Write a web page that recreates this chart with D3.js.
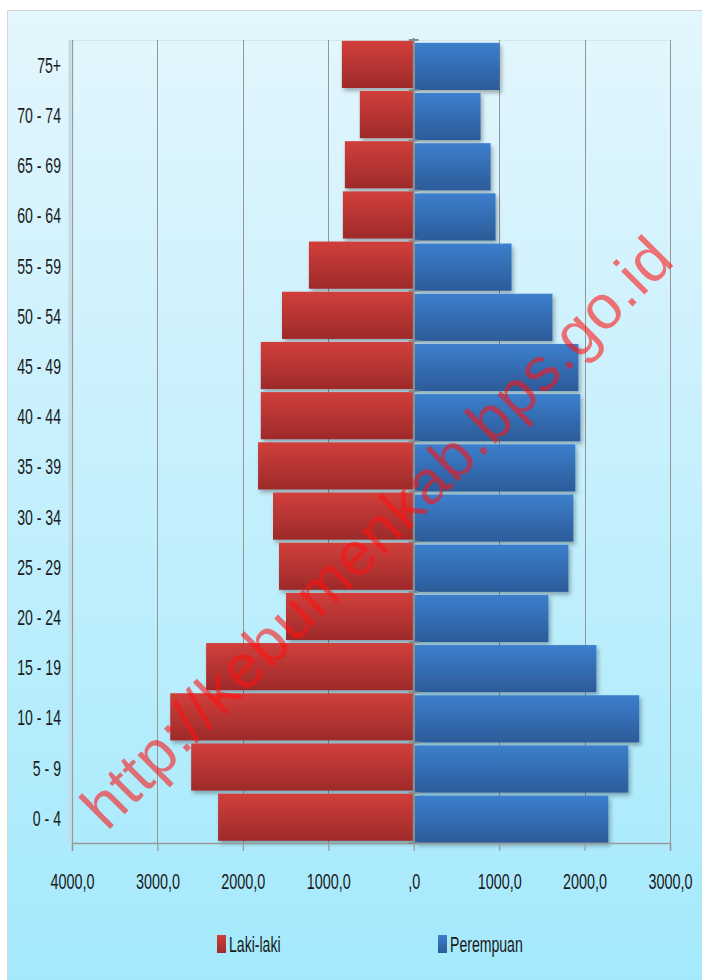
<!DOCTYPE html>
<html>
<head>
<meta charset="utf-8">
<script src="https://cdn.jsdelivr.net/npm/d3@7"></script>
<style>
  html, body { margin: 0; padding: 0; background: #ffffff; }
  svg { display: block; }
  text { font-family: "Liberation Sans", Arial, sans-serif; }
</style>
</head>
<body>
<svg id="chart" width="702" height="980"></svg>
<script>
// ---- data ----
const ageGroups = ["0 - 4","5 - 9","10 - 14","15 - 19","20 - 24","25 - 29","30 - 34","35 - 39",
                   "40 - 44","45 - 49","50 - 54","55 - 59","60 - 64","65 - 69","70 - 74","75+"];
const lakiLaki  = [2290, 2605, 2850, 2430, 1495, 1577, 1647, 1822, 1790, 1790, 1542, 1227, 829, 806, 631, 841];
const perempuan = [2278, 2512, 2640, 2138, 1577, 1811, 1869, 1892, 1950, 1928, 1624, 1145, 958, 900, 783, 1005];
const tickValues = [-4000, -3000, -2000, -1000, 0, 1000, 2000, 3000];
const tickLabels = ["4000,0", "3000,0", "2000,0", "1000,0", ",0", "1000,0", "2000,0", "3000,0"];
const seriesNames = ["Laki-laki", "Perempuan"];
const watermark = "http://kebumenkab.bps.go.id";

const svg = d3.select("#chart");
const defs = svg.append("defs");

// background gradient
const bg = defs.append("linearGradient").attr("id", "bg").attr("x1", 0).attr("y1", 0).attr("x2", 0).attr("y2", 1);
bg.append("stop").attr("offset", "0%").attr("stop-color", "#e4f6fd");
bg.append("stop").attr("offset", "100%").attr("stop-color", "#a3e9fc");

const gRed = defs.append("linearGradient").attr("id", "gRed").attr("x1", 0).attr("y1", 0).attr("x2", 0).attr("y2", 1);
gRed.append("stop").attr("offset", "0%").attr("stop-color", "#d13f3b");
gRed.append("stop").attr("offset", "100%").attr("stop-color", "#9d2a2a");
const gBlue = defs.append("linearGradient").attr("id", "gBlue").attr("x1", 0).attr("y1", 0).attr("x2", 0).attr("y2", 1);
gBlue.append("stop").attr("offset", "0%").attr("stop-color", "#3c7fcd");
gBlue.append("stop").attr("offset", "100%").attr("stop-color", "#2c5b99");

const shadow = defs.append("filter").attr("id", "shadow").attr("x", "-10%").attr("y", "-10%").attr("width", "130%").attr("height", "140%");
shadow.append("feDropShadow").attr("dx", 2).attr("dy", 3).attr("stdDeviation", 2)
  .attr("flood-color", "#000").attr("flood-opacity", 0.3);

// outer frame
svg.append("rect").attr("x", 7.5).attr("y", 10.5).attr("width", 700).attr("height", 980)
  .attr("fill", "url(#bg)").attr("stroke", "#d6d6d6").attr("stroke-width", 1);

// scales
const x = d3.scaleLinear().domain([-4000, 3000]).range([72, 670]);
const y = d3.scaleBand().domain(ageGroups.slice().reverse()).range([40, 843]).padding(0);
const bw = y.bandwidth();
const x0 = x(0);

// plot top faint border
svg.append("line").attr("x1", 72).attr("x2", 670).attr("y1", 40.5).attr("y2", 40.5)
  .attr("stroke", "#cfe7ef").attr("stroke-width", 1);

// vertical gridlines
svg.append("g").selectAll("line").data(tickValues.filter(v => v !== 0 && v !== -4000)).join("line")
  .attr("x1", d => Math.round(x(d)) + 0.5).attr("x2", d => Math.round(x(d)) + 0.5)
  .attr("y1", 40).attr("y2", 843)
  .attr("stroke", "#959595").attr("stroke-width", 1);

// bars
const rows = ageGroups.map((g, i) => ({ g, m: lakiLaki[i], f: perempuan[i] }));
const bars = svg.append("g").attr("filter", "url(#shadow)");
bars.selectAll("rect.m").data(rows).join("rect").attr("class", "m")
  .attr("x", d => x(-d.m)).attr("width", d => x0 - x(-d.m))
  .attr("y", d => y(d.g) + 0.8).attr("height", bw - 3)
  .attr("fill", "url(#gRed)");
bars.selectAll("rect.f").data(rows).join("rect").attr("class", "f")
  .attr("x", x0 + 1).attr("width", d => x(d.f) - x0 - 1)
  .attr("y", d => y(d.g) + 2.8).attr("height", bw - 3)
  .attr("fill", "url(#gBlue)");

// left axis line with soft shadow
svg.append("line").attr("x1", 70).attr("x2", 70).attr("y1", 40).attr("y2", 843)
  .attr("stroke", "#c4dce4").attr("stroke-width", 3);
svg.append("line").attr("x1", 72.5).attr("x2", 72.5).attr("y1", 40).attr("y2", 843)
  .attr("stroke", "#9a9a9a").attr("stroke-width", 1.2);

// bottom axis
const xAxis = d3.axisBottom(x).tickValues(tickValues).tickSize(8).tickFormat((d, i) => tickLabels[i]);
const gx = svg.append("g").attr("transform", "translate(0,843)").call(xAxis);
gx.select(".domain").attr("stroke", "#9a9a9a").attr("stroke-width", 1.5);
gx.selectAll(".tick line").attr("stroke", "#9a9a9a").attr("stroke-width", 1.2);
gx.selectAll(".tick text")
  .attr("y", 0).attr("dy", 0)
  .attr("transform", "translate(0,46) scale(0.64,1)")
  .attr("font-size", 22.5).attr("fill", "#1a1a1a")
  .attr("font-family", "Liberation Sans, Arial, sans-serif");

// center (category) axis
svg.append("line").attr("x1", x0).attr("x2", x0).attr("y1", 38).attr("y2", 843)
  .attr("stroke", "#8a8a8a").attr("stroke-width", 2);
const boundaries = ageGroups.map(g => y(g)).concat([843]);
svg.append("g").selectAll("line").data(boundaries).join("line")
  .attr("x1", x0 - 5).attr("x2", x0 + 5)
  .attr("y1", d => d).attr("y2", d => d)
  .attr("stroke", "#8a8a8a").attr("stroke-width", 2);

// category labels
svg.append("g").selectAll("text").data(ageGroups).join("text")
  .attr("transform", d => `translate(61,${y(d) + bw / 2 + 7.8}) scale(0.64,1)`)
  .attr("text-anchor", "end").attr("font-size", 22).attr("fill", "#1a1a1a")
  .text(d => d);

// legend
const legendX = [217, 438];
const legendFill = ["url(#gRed)", "url(#gBlue)"];
const lg = svg.append("g").selectAll("g").data(seriesNames).join("g")
  .attr("transform", (d, i) => `translate(${legendX[i]},935)`);
lg.append("rect").attr("width", 9).attr("height", 18).attr("fill", (d, i) => legendFill[i]);
lg.append("text").attr("transform", "translate(12,17) scale(0.64,1)")
  .attr("font-size", 22).attr("fill", "#1a1a1a").text(d => d);

// watermark
svg.append("text")
  .attr("transform", "translate(107,832) rotate(-45)")
  .attr("font-size", 62).attr("fill", "#ff1212").attr("fill-opacity", 0.58)
  .attr("textLength", 805).attr("lengthAdjust", "spacing")
  .text(watermark);
</script>
</body>
</html>
